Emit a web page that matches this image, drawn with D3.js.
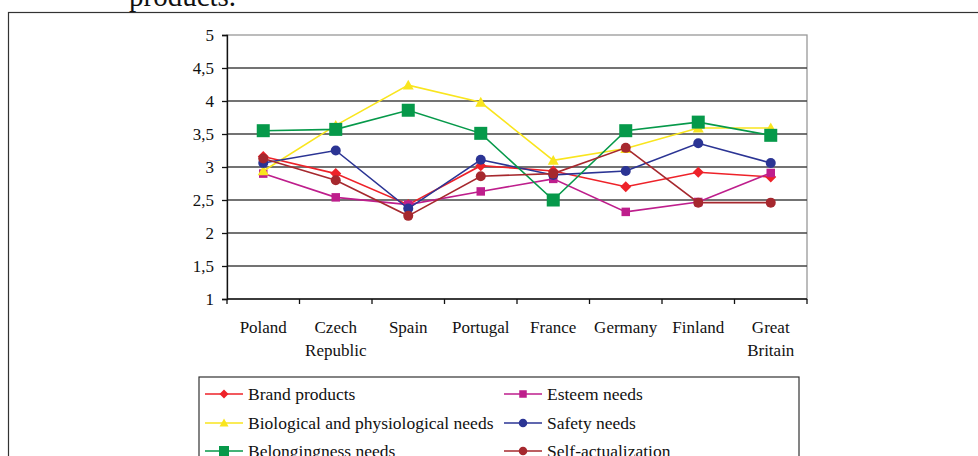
<!DOCTYPE html>
<html>
<head>
<meta charset="utf-8">
<script src="https://cdn.jsdelivr.net/npm/d3@7"></script>
<style>
html,body{margin:0;padding:0;background:#fff;}
svg{display:block;font-family:"Liberation Serif","Times New Roman",serif;}
</style>
</head>
<body>
<svg id="chart" width="978" height="456"></svg>
<script>
const categories = [["Poland"],["Czech","Republic"],["Spain"],["Portugal"],["France"],["Germany"],["Finland"],["Great","Britain"]];
const seriesNames = ["Brand products","Esteem needs","Biological and physiological needs","Safety needs","Belongingness needs","Self-actualization"];
const brandProducts      = [3.16, 2.90, 2.43, 3.02, 2.94, 2.70, 2.92, 2.85];
const esteemNeeds        = [2.90, 2.54, 2.43, 2.63, 2.82, 2.32, 2.47, 2.91];
const biologicalNeeds    = [2.94, 3.63, 4.24, 3.98, 3.10, 3.28, 3.59, 3.59];
const safetyNeeds        = [3.06, 3.25, 2.37, 3.11, 2.88, 2.94, 3.36, 3.06];
const belongingnessNeeds = [3.55, 3.57, 3.86, 3.51, 2.50, 3.55, 3.68, 3.48];
const selfActualization  = [3.13, 2.80, 2.26, 2.86, 2.90, 3.29, 2.46, 2.46];
const yTicks = [1, 1.5, 2, 2.5, 3, 3.5, 4, 4.5, 5];
const titleFragment = "products.";

(function(){
const seriesValues = [brandProducts, esteemNeeds, biologicalNeeds, safetyNeeds, belongingnessNeeds, selfActualization];
const styles = [
  {color:"#ee2229", shape:"diamond", size:11, lsize:9},
  {color:"#be1e8c", shape:"square", size:8.5, lsize:7.5},
  {color:"#f9e51e", shape:"triangle", size:11, lsize:9},
  {color:"#2b3494", shape:"circle", size:10, lsize:8.5},
  {color:"#06994a", shape:"square", size:13, lsize:10},
  {color:"#a6282e", shape:"circle", size:10, lsize:8.5}
];

const svg = d3.select("#chart");

// outer frame
svg.append("rect").attr("x",8.5).attr("y",12.5).attr("width",990).attr("height",480)
  .attr("fill","none").attr("stroke","#333").attr("stroke-width",1.2);
svg.append("text").attr("x",129).attr("y",6).attr("font-size",29).attr("fill","#111")
  .text(titleFragment);

const pLeft=227, pRight=807, pTop=35, pBottom=299;
const catKeys = categories.map(c=>c.join(" "));
const x = d3.scaleBand().domain(catKeys).range([pLeft,pRight]).paddingInner(0).paddingOuter(0);
const y = d3.scaleLinear().domain([1,5]).range([pBottom,pTop]);
const cx = k => x(k) + x.bandwidth()/2;

svg.append("rect").attr("x",pLeft).attr("y",pTop).attr("width",pRight-pLeft).attr("height",pBottom-pTop)
  .attr("fill","none").attr("stroke","#999").attr("stroke-width",1.3);

svg.append("g").selectAll("line").data(yTicks.filter(d=>d>1 && d<5)).join("line")
  .attr("x1",pLeft).attr("x2",pRight).attr("y1",d=>y(d)).attr("y2",d=>y(d))
  .attr("stroke","#444").attr("stroke-width",1.3);

const yAxis = d3.axisLeft(y).tickValues(yTicks).tickSize(5).tickPadding(8)
  .tickFormat(d=>String(d).replace(".",","));
const gy = svg.append("g").attr("transform",`translate(${pLeft},0)`).call(yAxis);
gy.select(".domain").attr("stroke","#111").attr("stroke-width",1.3);
gy.selectAll(".tick line").attr("stroke","#111").attr("stroke-width",1.3);
gy.selectAll(".tick text").attr("font-family","Liberation Serif").attr("font-size",17).attr("fill","#111");

svg.append("line").attr("x1",pLeft).attr("x2",pRight).attr("y1",pBottom).attr("y2",pBottom)
  .attr("stroke","#111").attr("stroke-width",1.3);
const edges = catKeys.map(k=>x(k)).concat([pRight]);
svg.append("g").selectAll("line").data(edges).join("line")
  .attr("x1",d=>d).attr("x2",d=>d).attr("y1",pBottom).attr("y2",pBottom+5)
  .attr("stroke","#111").attr("stroke-width",1.3);
const xl = svg.append("g").selectAll("text").data(categories).join("text")
  .attr("x",d=>cx(d.join(" "))).attr("y",333).attr("text-anchor","middle")
  .attr("font-size",17).attr("fill","#111");
xl.each(function(d){
  const t=d3.select(this);
  d.forEach((s,i)=>t.append("tspan").attr("x",cx(d.join(" "))).attr("dy",i===0?0:23).text(s));
});

function marker(g, shape, size, color){
  if(shape==="circle"){
    g.append("circle").attr("r",size/2).attr("fill",color);
  } else if(shape==="square"){
    g.append("rect").attr("x",-size/2).attr("y",-size/2).attr("width",size).attr("height",size).attr("fill",color);
  } else if(shape==="diamond"){
    const h=size/2;
    g.append("path").attr("d",`M0,${-h}L${h},0L0,${h}L${-h},0Z`).attr("fill",color);
  } else if(shape==="triangle"){
    const h=size/2;
    g.append("path").attr("d",`M0,${-h}L${h},${h*0.8}L${-h},${h*0.8}Z`).attr("fill",color);
  }
}

const line = d3.line().x((d,i)=>cx(catKeys[i])).y(d=>y(d));
seriesValues.forEach((vals,si)=>{
  const st=styles[si];
  const g=svg.append("g");
  g.append("path").datum(vals).attr("d",line).attr("fill","none")
    .attr("stroke",st.color).attr("stroke-width",1.6);
  vals.forEach((v,i)=>{
    const mg=g.append("g").attr("transform",`translate(${cx(catKeys[i])},${y(v)})`);
    marker(mg, st.shape, st.size, st.color);
  });
});

svg.append("rect").attr("x",199).attr("y",377).attr("width",600).attr("height",120)
  .attr("fill","#fff").attr("stroke","#333").attr("stroke-width",1.2);
const colX=[205,504], rowY=[394,423,451];
seriesNames.forEach((name,i)=>{
  const col=i%2, row=Math.floor(i/2);
  const st=styles[i];
  const g=svg.append("g").attr("transform",`translate(${colX[col]},${rowY[row]})`);
  g.append("line").attr("x1",0).attr("x2",38).attr("y1",0).attr("y2",0)
    .attr("stroke",st.color).attr("stroke-width",1.6);
  const mg=g.append("g").attr("transform","translate(19,0)");
  marker(mg, st.shape, st.lsize, st.color);
  g.append("text").attr("x",43).attr("y",6).attr("font-size",17.5).attr("fill","#111").text(name);
});
})();
</script>
</body>
</html>
